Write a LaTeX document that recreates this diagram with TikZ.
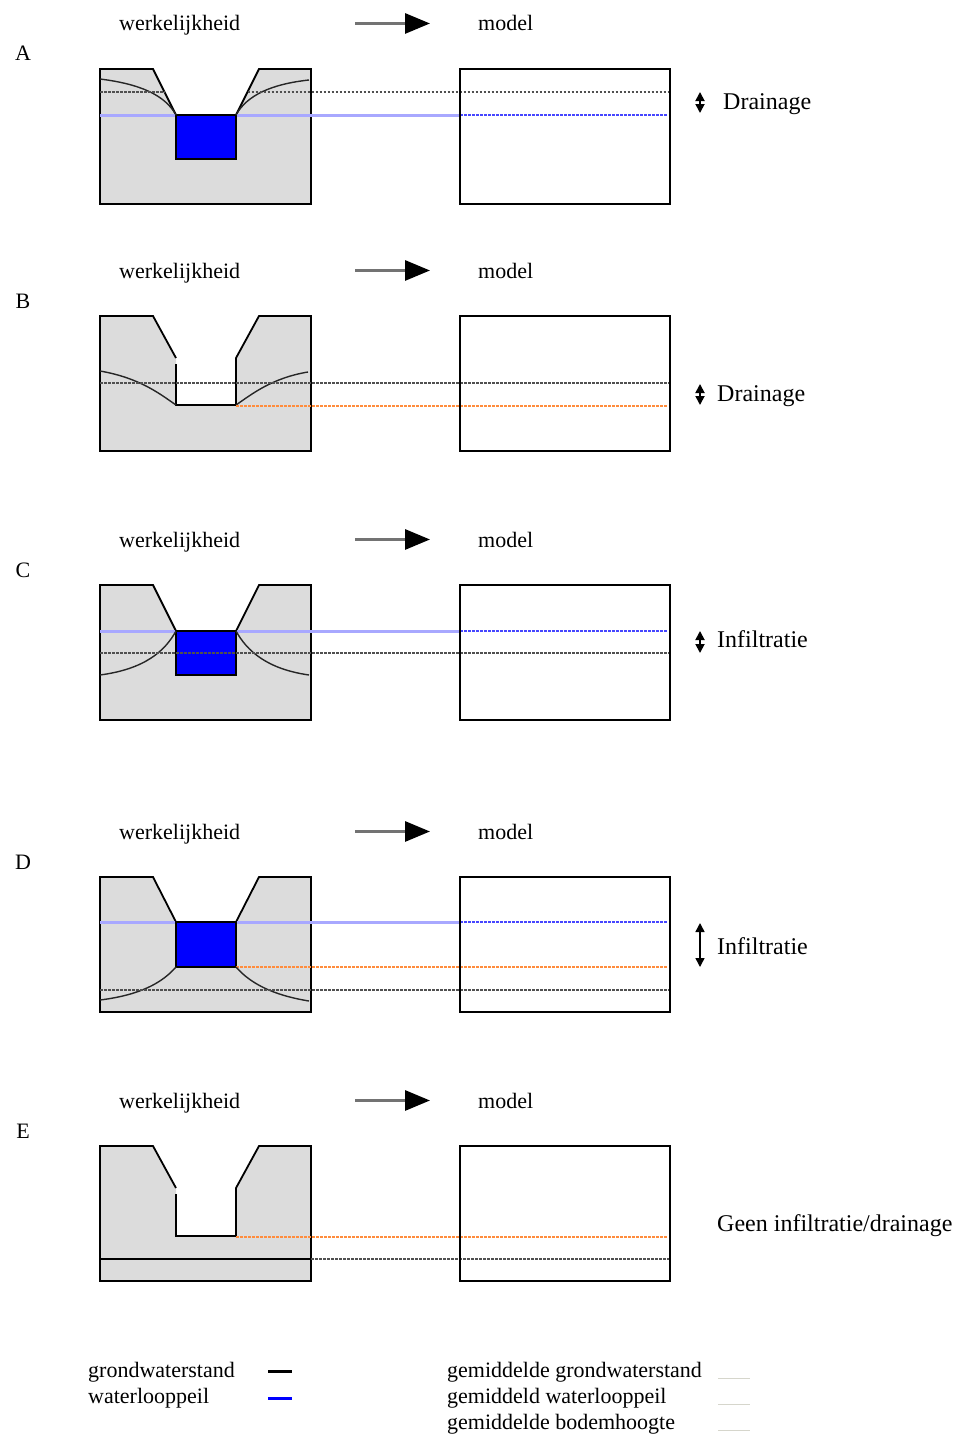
\documentclass[tikz,border=0pt]{standalone}
\usepackage{fontspec}
\setmainfont{Liberation Serif}
\usepackage{tikz}
\usetikzlibrary{arrows.meta, positioning}

\definecolor{grondgrijs}{RGB}{220,220,220}
\definecolor{waterblauw}{RGB}{0,0,255}
\definecolor{peilblauw}{RGB}{168,168,255}
\definecolor{blauwstip}{RGB}{70,70,255}
\definecolor{oranje}{RGB}{255,140,60}
\definecolor{stipgrijs}{RGB}{80,80,80}
\definecolor{legendagrijs}{RGB}{214,214,204}

\tikzset{
    txt/.style={inner sep=0pt, font=\fontsize{22}{26}\selectfont},
    lbl/.style={inner sep=0pt, font=\fontsize{24}{28}\selectfont},
    grond/.style={fill=grondgrijs, draw=black, line width=1.8pt},
    grondrand/.style={draw=black, line width=1.8pt},
    water/.style={fill=waterblauw, draw=black, line width=1.8pt},
    gws/.style={draw=black!85, line width=1.4pt},
    peil/.style={draw=peilblauw, line width=3pt},
    gemgws/.style={draw=stipgrijs, line width=2.5pt, dash pattern=on 2.5pt off 1.5pt},
    gempeil/.style={draw=blauwstip, line width=2.5pt, dash pattern=on 2.5pt off 1.5pt},
    gembodem/.style={draw=oranje, line width=2.5pt, dash pattern=on 2.5pt off 1.5pt},
    modelbox/.style={draw=black, line width=1.8pt},
    kopijl/.style={draw=black!55, line width=3pt, -{Triangle[length=25pt, width=20pt, color=black]}},
    dubbel/.style={draw=black, line width=1.8pt, {Triangle[length=9pt, width=9pt]}-{Triangle[length=9pt, width=9pt]}}
}

\begin{document}
\begin{tikzpicture}[x=1pt, y=-1pt]
    \useasboundingbox (0,0) rectangle (973,1437);

    % kop boven elk paneel
    \foreach \pan/\dy in {A/0, B/247, C/516, D/808, E/1077} {
        \begin{scope}[shift={(0,\dy)}]
            \node[txt, anchor=base] (let\pan) at (23,61) {\pan};
            \node[txt, anchor=base west] (werk\pan) at (119,31) {werkelijkheid};
            \node[txt, anchor=base west] (model\pan) at (478,31) {model};
            \draw[kopijl] ([xshift=-123pt]model\pan.west) -- ([xshift=-48pt]model\pan.west);
        \end{scope}
    }

    % A: drainage, water in de loop
    \begin{scope}[shift={(0,69)}]
        \filldraw[grond] (100,0) -- (153,0) -- (176,46) -- (176,90) -- (236,90) -- (236,46)
            -- (259,0) -- (311,0) -- (311,135) -- (100,135) -- cycle;
        \draw[peil] (100,46) -- (460,46);
        \draw[gempeil] (460,46) -- (668,46);
        \draw[water] (176,46) rectangle (236,90);
        \draw[gws] (100,10) .. controls (140,15) and (165,26) .. (176,46);
        \draw[gws] (236,46) .. controls (247,26) and (272,15) .. (309,11);
        \draw[gemgws] (100,23) -- (164.5,23) (247.5,23) -- (670,23);
        \draw[modelbox] (460,0) rectangle (670,135);
        \draw[dubbel] (700,23) -- (700,44);
        \node[lbl, anchor=base west] (drainA) at (723,40) {Drainage};
    \end{scope}

    % B: drainage, droge loop
    \begin{scope}[shift={(0,316)}]
        \fill[grondgrijs] (100,0) -- (153,0) -- (176,42) -- (176,89) -- (236,89) -- (236,42)
            -- (259,0) -- (311,0) -- (311,135) -- (100,135) -- cycle;
        \draw[grondrand] (176,48) -- (176,89) -- (236,89) -- (236,42) -- (259,0) -- (311,0)
            -- (311,135) -- (100,135) -- (100,0) -- (153,0) -- (176,42);
        \draw[gws] (100,55) .. controls (140,62) and (160,78) .. (176,89);
        \draw[gws] (236,89) .. controls (252,78) and (272,62) .. (308,56);
        \draw[gemgws] (100,67) -- (670,67);
        \draw[gembodem] (236,90) -- (668,90);
        \draw[modelbox] (460,0) rectangle (670,135);
        \draw[dubbel] (700,68) -- (700,89);
        \node[lbl, anchor=base west] (drainB) at (717,85) {Drainage};
    \end{scope}

    % C: infiltratie, water in de loop
    \begin{scope}[shift={(0,585)}]
        \filldraw[grond] (100,0) -- (153,0) -- (176,46) -- (176,90) -- (236,90) -- (236,46)
            -- (259,0) -- (311,0) -- (311,135) -- (100,135) -- cycle;
        \draw[peil] (100,46) -- (460,46);
        \draw[gempeil] (460,46) -- (668,46);
        \draw[water] (176,46) rectangle (236,90);
        \draw[gws] (100,90) .. controls (145,84) and (165,66) .. (176,46);
        \draw[gws] (236,46) .. controls (247,66) and (267,84) .. (309,90);
        \draw[gemgws] (100,68) -- (670,68);
        \draw[modelbox] (460,0) rectangle (670,135);
        \draw[dubbel] (700,46) -- (700,68);
        \node[lbl, anchor=base west] (infC) at (717,62) {Infiltratie};
    \end{scope}

    % D: infiltratie, peil boven bodem
    \begin{scope}[shift={(0,877)}]
        \filldraw[grond] (100,0) -- (153,0) -- (176,45) -- (176,90) -- (236,90) -- (236,45)
            -- (259,0) -- (311,0) -- (311,135) -- (100,135) -- cycle;
        \draw[peil] (100,45) -- (460,45);
        \draw[gempeil] (460,45) -- (668,45);
        \draw[water] (176,45) rectangle (236,90);
        \draw[gembodem] (236,90) -- (668,90);
        \draw[gws] (100,123) .. controls (140,118) and (162,106) .. (176,90);
        \draw[gws] (236,90) .. controls (250,106) and (272,118) .. (309,124);
        \draw[gemgws] (100,113) -- (670,113);
        \draw[modelbox] (460,0) rectangle (670,135);
        \draw[dubbel, line width=1.5pt] (700,46) -- (700,90);
        \node[lbl, anchor=base west] (infD) at (717,77) {Infiltratie};
    \end{scope}

    % E: grondwater onder de bodem
    \begin{scope}[shift={(0,1146)}]
        \fill[grondgrijs] (100,0) -- (153,0) -- (176,42) -- (176,90) -- (236,90) -- (236,42)
            -- (259,0) -- (311,0) -- (311,135) -- (100,135) -- cycle;
        \draw[grondrand] (176,48) -- (176,90) -- (236,90) -- (236,42) -- (259,0) -- (311,0)
            -- (311,135) -- (100,135) -- (100,0) -- (153,0) -- (176,42);
        \draw[grondrand] (100,113) -- (311,113);
        \draw[gemgws] (311,113) -- (670,113);
        \draw[gembodem] (236,91) -- (668,91);
        \draw[modelbox] (460,0) rectangle (670,135);
        \node[lbl, anchor=base west] (geenE) at (717,85) {Geen infiltratie/drainage};
    \end{scope}

    % legenda
    \node[txt, anchor=base west] (lgws) at (88,1377) {grondwaterstand};
    \node[txt, anchor=base west] (lpeil) at (88,1403) {waterlooppeil};
    \draw[black, line width=3pt] (268,1371) -- (292,1371);
    \draw[waterblauw, line width=3pt] (268,1398) -- (292,1398);

    \node[txt, anchor=base west] (lgemgws) at (447,1377) {gemiddelde grondwaterstand};
    \node[txt, anchor=base west] (lgempeil) at (447,1403) {gemiddeld waterlooppeil};
    \node[txt, anchor=base west] (lgembodem) at (447,1429) {gemiddelde bodemhoogte};
    \foreach \yl in {1378, 1404, 1430}
        \draw[legendagrijs, line width=1pt] (718,\yl) -- (750,\yl);
\end{tikzpicture}
\end{document}
